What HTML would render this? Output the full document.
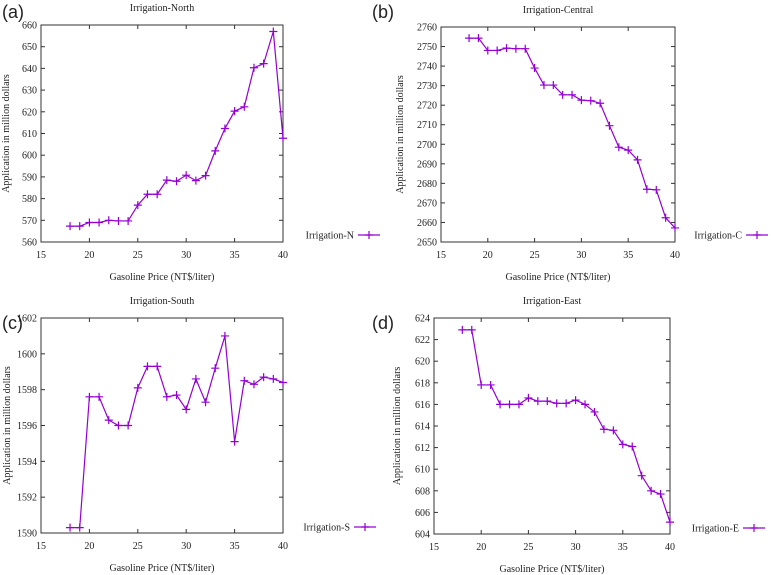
<!DOCTYPE html>
<html><head><meta charset="utf-8"><style>
body{margin:0;background:#fff;width:771px;height:575px;overflow:hidden}
svg{display:block}
text{font-family:"Liberation Serif",serif;fill:#222}
</style></head><body>
<svg id="c" width="771" height="575" xmlns="http://www.w3.org/2000/svg"></svg>
<script>
const xValues=[18,19,20,21,22,23,24,25,26,27,28,29,30,31,32,33,34,35,36,37,38,39,40];
const xTicks=[15,20,25,30,35,40];
const northValues=[567.3,567.3,569,569,570,569.7,569.7,577,582,582,588.5,588,590.8,588.3,590.6,602,612.3,620.3,622.3,640.3,642.2,657,607.8];
const centralValues=[2754.3,2754.3,2748,2748,2749.2,2748.9,2748.9,2739,2730.3,2730.3,2725.3,2725.3,2722.6,2722.3,2721,2709.5,2698.5,2697,2692,2677,2676.7,2662.4,2657.2];
const southValues=[1590.3,1590.3,1597.6,1597.6,1596.3,1596,1596,1598.1,1599.3,1599.3,1597.6,1597.7,1596.9,1598.6,1597.3,1599.2,1601,1595.1,1598.5,1598.3,1598.7,1598.6,1598.4];
const eastValues=[622.9,622.9,617.8,617.8,616,616,616,616.6,616.3,616.3,616.1,616.1,616.4,616,615.3,613.7,613.6,612.3,612.1,609.4,608,607.7,605.1];
const northTicks=[560,570,580,590,600,610,620,630,640,650,660];
const centralTicks=[2650,2660,2670,2680,2690,2700,2710,2720,2730,2740,2750,2760];
const southTicks=[1590,1592,1594,1596,1598,1600,1602];
const eastTicks=[604,606,608,610,612,614,616,618,620,622,624];

const svg=document.getElementById('c');
const NS='http://www.w3.org/2000/svg';
const COL='#9400d3';
function mk(tag,attrs,parent,txt){const e=document.createElementNS(NS,tag);for(const k in attrs)e.setAttribute(k,attrs[k]);if(txt!==undefined)e.textContent=txt;parent.appendChild(e);return e;}

function panel(cfg){
  const g=mk('g',{},svg);
  
  
  const {L,R,T,B}=cfg;
  const yMin=cfg.yTicks[0],yMax=cfg.yTicks[cfg.yTicks.length-1];
  const sx=v=>L+(v-15)/(40-15)*(R-L);
  const sy=v=>B-(v-yMin)/(yMax-yMin)*(B-T);
  const lbl=mk('text',{x:cfg.lx,y:cfg.ly,'font-size':18,style:'font-family:"Liberation Sans",sans-serif'},g,cfg.letter);
  
  
  const t=mk('text',{x:(L+R)/2,y:T-14,'font-size':10,'text-anchor':'middle'},g,cfg.title);
  
  
  const fr=mk('rect',{x:L,y:T,width:R-L,height:B-T,fill:'none',stroke:'#333','stroke-width':1},g);
  
  
  xTicks.forEach(v=>{
    const x=sx(v);
    mk('line',{x1:x,x2:x,y1:B,y2:B-4,stroke:'#333'},g);
    mk('line',{x1:x,x2:x,y1:T,y2:T+4,stroke:'#333'},g);
    const tx=mk('text',{x:x,y:B+16,'font-size':10,'text-anchor':'middle'},g,v);
    
    
  });
  cfg.yTicks.forEach(v=>{
    const y=sy(v);
    mk('line',{x1:L,x2:L+4,y1:y,y2:y,stroke:'#333'},g);
    mk('line',{x1:R,x2:R-4,y1:y,y2:y,stroke:'#333'},g);
    const ty=mk('text',{x:L-4,y:y+3.5,'font-size':10,'text-anchor':'end'},g,v);
    
    
  });
  const xt=mk('text',{x:(L+R)/2,y:B+38,'font-size':10,'text-anchor':'middle'},g,'Gasoline Price (NT$/liter)');
  
  
  const yt=mk('text',{x:0,y:0,'font-size':10,'text-anchor':'middle',transform:`translate(${cfg.yx},${(T+B)/2}) rotate(-90)`},g,'Application in million dollars');
  
  
  const pts=xValues.map((x,i)=>sx(x)+','+sy(cfg.values[i])).join(' ');
  const pl=mk('polyline',{points:pts,fill:'none',stroke:COL,'stroke-width':1.2},g);
  
  
  xValues.forEach((x,i)=>{
    const px=sx(x),py=sy(cfg.values[i]);
    const m=mk('path',{d:`M${px-4},${py}H${px+4}M${px},${py-4}V${py+4}`,stroke:COL,'stroke-width':1.2},g);
    
    
  });
  const lg=mk('g',{},g);
  
  
  mk('text',{x:cfg.legX,y:cfg.legY+3.5,'font-size':10,'text-anchor':'end'},lg,cfg.legend);
  mk('line',{x1:cfg.legX+4,x2:cfg.legX+26,y1:cfg.legY,y2:cfg.legY,stroke:COL,'stroke-width':1.2},lg);
  const mx=cfg.legX+15;
  mk('path',{d:`M${mx-4},${cfg.legY}H${mx+4}M${mx},${cfg.legY-4}V${cfg.legY+4}`,stroke:COL,'stroke-width':1.2},lg);
}
panel({key:'north',letter:'(a)',title:'Irrigation-North',L:41,R:283,T:25,B:242,yTicks:northTicks,values:northValues,lx:2,ly:18,yx:9,legend:'Irrigation-N',legX:354,legY:235});
panel({key:'central',letter:'(b)',title:'Irrigation-Central',L:441,R:675,T:27,B:242,yTicks:centralTicks,values:centralValues,lx:372,ly:18,yx:403,legend:'Irrigation-C',legX:742,legY:235});
panel({key:'south',letter:'(c)',title:'Irrigation-South',L:41,R:283,T:318,B:533,yTicks:southTicks,values:southValues,lx:2,ly:329,yx:10,legend:'Irrigation-S',legX:350,legY:527});
panel({key:'east',letter:'(d)',title:'Irrigation-East',L:434,R:670,T:318,B:534,yTicks:eastTicks,values:eastValues,lx:372,ly:329,yx:400,legend:'Irrigation-E',legX:739,legY:528});
</script>
</body></html>
